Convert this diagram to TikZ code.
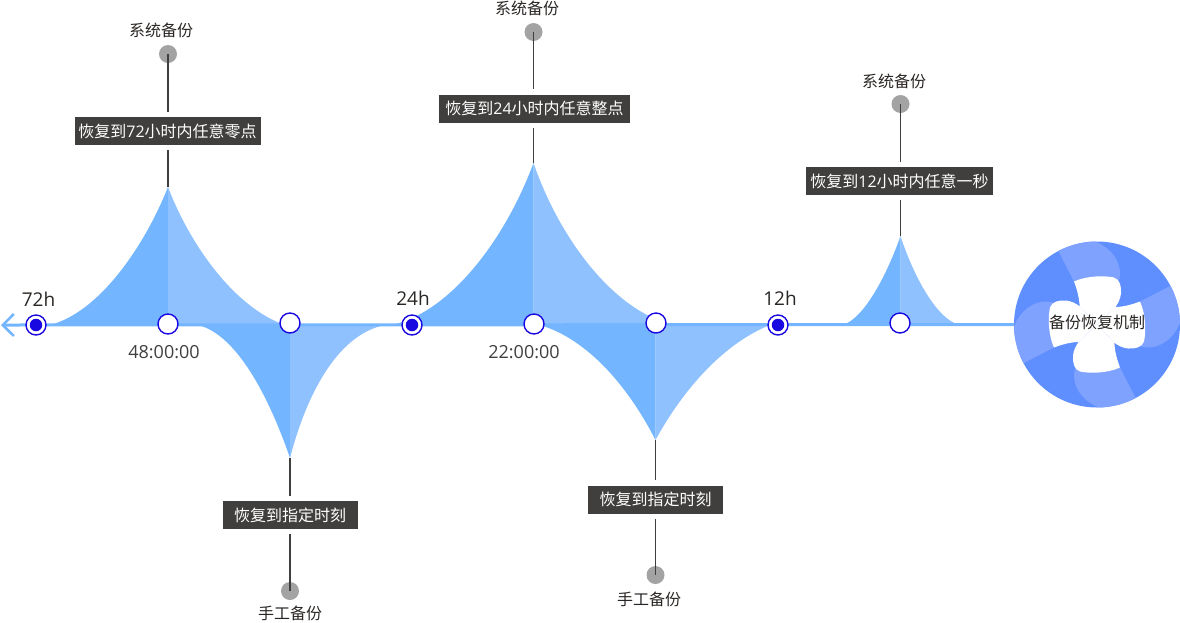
\documentclass[tikz,border=0pt]{standalone}
\usepackage{fontspec}
\setmainfont{Open Sans}
\newfontfamily\cjk{Noto Sans CJK SC}
\usetikzlibrary{arrows.meta,positioning}
\definecolor{skyleft}{HTML}{73B6FF}
\definecolor{skyright}{HTML}{8FC1FF}
\definecolor{ringblue}{HTML}{1A08E0}
\definecolor{discdark}{HTML}{5F8FFF}
\definecolor{disclight}{HTML}{80A2FF}
\definecolor{boxgray}{HTML}{403F3E}
\definecolor{dotgray}{HTML}{A3A3A3}
\definecolor{inkdark}{HTML}{2A2624}

\begin{document}
\begin{tikzpicture}[x=1pt,y=-1pt,
    darkfill/.style={fill=skyleft,draw=none},
    lightfill/.style={fill=skyright,draw=none},
    timeline/.style={draw=skyleft,line width=3pt,-{Straight Barb[length=11pt,width=22pt,line width=2.5pt]}},
    open node/.style={circle,draw=ringblue,fill=white,line width=1.4pt,minimum size=20pt,inner sep=0pt},
    core node/.style={circle,fill=ringblue,minimum size=12.5pt,inner sep=0pt},
    info box/.style={fill=boxgray,text=white,minimum height=28pt,inner sep=0pt,font=\fontsize{16}{16}\selectfont},
    end dot/.style={circle,fill=dotgray,minimum size=18pt,inner sep=0pt},
    wire/.style={draw=boxgray,line width=1.2pt,shorten >=5pt},
    backup label/.style={text=inkdark,inner sep=0pt,font=\fontsize{16}{16}\selectfont\cjk},
    hour label/.style={text=inkdark,inner sep=0pt,font=\fontsize{19}{19}\selectfont},
    time label/.style={text=boxgray,inner sep=0pt,font=\fontsize{18}{18}\selectfont}]

\useasboundingbox (0,0) rectangle (1180,622);

\coordinate (tail)   at (1,325);
\coordinate (peak72) at (168,187);
\coordinate (dip72)  at (290,458);
\coordinate (peak24) at (533.5,163);
\coordinate (dip24)  at (655.5,440);
\coordinate (peak12) at (900.5,236);

% peaks and dips
\fill[darkfill]  (50,325) .. controls (100,312) and (145,245) .. (peak72) -- (168,325) -- cycle;
\fill[lightfill] (peak72) .. controls (190,245) and (235,308) .. (285,325) -- (168,325) -- cycle;
\fill[darkfill]  (198,325) .. controls (238,335) and (270,400) .. (dip72) -- (290,325) -- cycle;
\fill[lightfill] (dip72) .. controls (305,400) and (335,335) .. (385,325) -- (290,325) -- cycle;
\fill[darkfill]  (392,325) .. controls (450,312) and (505,240) .. (peak24) -- (533.5,325) -- cycle;
\fill[lightfill] (peak24) .. controls (560,240) and (615,312) .. (674,325) -- (533.5,325) -- cycle;
\fill[darkfill]  (540,325) .. controls (590,340) and (630,390) .. (dip24) -- (655.5,325) -- cycle;
\fill[lightfill] (dip24) .. controls (680,395) and (720,345) .. (770,325) -- (655.5,325) -- cycle;
\fill[darkfill]  (842,325) .. controls (864,320) and (888,272) .. (peak12) -- (900.5,325) -- cycle;
\fill[lightfill] (peak12) .. controls (912,272) and (936,320) .. (960,325) -- (900.5,325) -- cycle;

% the disc
\node[circle,fill=discdark,minimum size=166pt,inner sep=0pt] (disc) at (1097,324.5) {};
\begin{scope}
  \clip (disc.center) circle (83);
  \foreach \turn in {0,90,180,270} {
    \fill[disclight,shift={(disc.center)},rotate=\turn]
      (-23,-43) -- (-43,-82) -- (-2,-90) -- (-2,-83) .. controls (16,-76) and (26,-60) .. (22,-44) -- cycle;
  }
\end{scope}
\foreach \turn in {0,90,180,270} {
  \fill[white,shift={(disc.center)},rotate=\turn]
    (-17.3,-18.3) .. controls (-18,-28) and (-20,-35) .. (-23,-43)
    .. controls (-10,-49) and (8,-49) .. (17,-47)
    .. controls (23,-45) and (24.5,-38) .. (24,-31)
    .. controls (23.5,-26) and (21,-21) .. (18.3,-17.3) -- (0,0) -- cycle;
}
\node[text=inkdark,inner sep=0pt,font=\fontsize{16}{16}\selectfont\cjk] (disctext) at (1097,322) {备份恢复机制};

\path[timeline] (disc) -- (tail);

% points on the line
\node[open node] (h72) at (36,325) {};
\node[core node] (h72core) at (h72) {};
\node[open node] (h24) at (412,325) {};
\node[core node] (h24core) at (h24) {};
\node[open node] (h12) at (778,325) {};
\node[core node] (h12core) at (h12) {};
\node[open node] (mid72) at (168,324) {};
\node[open node] (low72) at (290,323) {};
\node[open node] (mid24) at (534,324) {};
\node[open node] (low24) at (656,323) {};
\node[open node] (mid12) at (900,323) {};

\node[hour label] (t72) at (38.5,299) {72h};
\node[hour label] (t24) at (413,298) {24h};
\node[hour label] (t12) at (780,298) {12h};
\node[time label] (s48) at (164,352) {48:00:00};
\node[time label] (s22) at (524,352) {22:00:00};

% boxes, dots and wires
\node[info box,minimum width=186pt] (box72) at (167.5,131) {{\cjk 恢复到}72{\cjk 小时内任意零点}};
\node[info box,minimum width=135pt] (boxa)  at (290,515)   {\cjk 恢复到指定时刻};
\node[info box,minimum width=191pt] (box24) at (534.5,108.5) {{\cjk 恢复到}24{\cjk 小时内任意整点}};
\node[info box,minimum width=135pt] (boxb)  at (655.5,499.5) {\cjk 恢复到指定时刻};
\node[info box,minimum width=187pt] (box12) at (899.5,181) {{\cjk 恢复到}12{\cjk 小时内任意一秒}};

\node[end dot] (dot72) at (168,54)    {};
\node[end dot] (dota)  at (290,591)   {};
\node[end dot] (dot24) at (533.5,32)  {};
\node[end dot] (dotb)  at (655.5,575) {};
\node[end dot] (dot12) at (900.5,104) {};

\node[backup label] (sys72) at (161,30)  {系统备份};
\node[backup label] (mana)  at (290,613) {手工备份};
\node[backup label] (sys24) at (527,8)   {系统备份};
\node[backup label] (manb)  at (649,599) {手工备份};
\node[backup label] (sys12) at (894,81)  {系统备份};

\path[wire] (dot72.center) -- (dot72.center |- box72.north);
\path[wire] (peak72) -- (peak72 |- box72.south);
\path[wire] (dota.center) -- (dota.center |- boxa.south);
\path[wire] (dip72) -- (dip72 |- boxa.north);
\path[wire] (dot24.center) -- (dot24.center |- box24.north);
\path[wire] (peak24) -- (peak24 |- box24.south);
\path[wire] (dotb.center) -- (dotb.center |- boxb.south);
\path[wire] (dip24) -- (dip24 |- boxb.north);
\path[wire] (dot12.center) -- (dot12.center |- box12.north);
\path[wire] (peak12) -- (peak12 |- box12.south);
\end{tikzpicture}
\end{document}
